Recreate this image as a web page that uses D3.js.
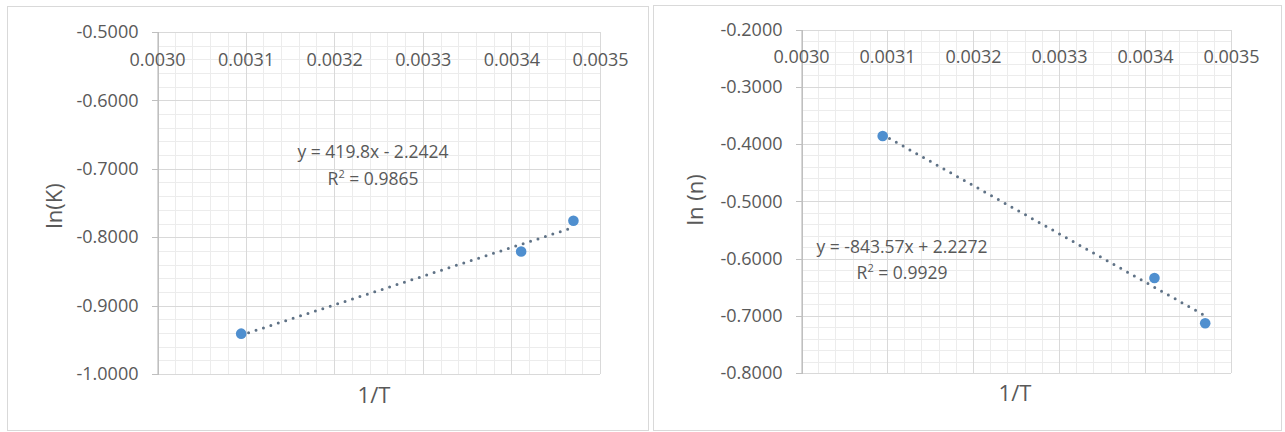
<!DOCTYPE html>
<html>
<head>
<meta charset="utf-8">
<script src="https://cdn.jsdelivr.net/npm/d3@7"></script>
<style>
  html, body { margin: 0; padding: 0; background: #ffffff; }
  svg { display: block; }
  text { font-family: "Open Sans", "Noto Sans", sans-serif; fill: #595959; }
</style>
</head>
<body>
<svg id="chart" width="1285" height="432"></svg>
<script>
// Reciprocal temperature (1/T, K^-1) of the three measurements
const invT = [0.003095, 0.003411, 0.003470];
// ln(K) and ln(n) at each temperature
const lnK = [-0.941, -0.821, -0.776];
const lnN = [-0.386, -0.634, -0.713];

// Axis ticks
const xTicks = [0.0030, 0.0031, 0.0032, 0.0033, 0.0034, 0.0035];
const lnKTicks = [-0.5, -0.6, -0.7, -0.8, -0.9, -1.0];
const lnNTicks = [-0.2, -0.3, -0.4, -0.5, -0.6, -0.7, -0.8];

// Linear trendlines: [slope, intercept, R²]
const lnKFit = [419.8, -2.2424, 0.9865];
const lnNFit = [-843.57, 2.2272, 0.9929];

const svg = d3.select("#chart");

// four decimals, plain hyphen for negatives
const fmt4 = v => v.toFixed(4);

function drawPanel(cfg) {
  const g = svg.append("g");

  // chart frame
  g.append("rect")
    .attr("x", cfg.box[0] + 0.5).attr("y", cfg.box[1] + 0.5)
    .attr("width", cfg.box[2] - cfg.box[0]).attr("height", cfg.box[3] - cfg.box[1])
    .attr("fill", "#ffffff").attr("stroke", "#d9d9d9").attr("stroke-width", 1);

  const x = d3.scaleLinear().domain(d3.extent(xTicks)).range([cfg.plot.left, cfg.plot.right]);
  const yDom = d3.extent(cfg.yTicks);
  const y = d3.scaleLinear().domain([yDom[0], yDom[1]]).range([cfg.plot.bottom, cfg.plot.top]);

  // minor gridlines (5 per major step)
  const xStep = (xTicks[1] - xTicks[0]) / 5;
  const xMinor = d3.range(0, (xTicks.length - 1) * 5 + 1).map(i => xTicks[0] + i * xStep);
  const yStep = 0.02;
  const yMinor = d3.range(0, Math.round((yDom[1] - yDom[0]) / yStep) + 1).map(i => yDom[0] + i * yStep);

  const grid = g.append("g").attr("shape-rendering", "crispEdges");
  grid.selectAll(".xm").data(xMinor).join("line")
    .attr("x1", d => Math.round(x(d)) + 0.5).attr("x2", d => Math.round(x(d)) + 0.5)
    .attr("y1", cfg.plot.top).attr("y2", cfg.plot.bottom)
    .attr("stroke", "#ececec").attr("stroke-width", 1);
  grid.selectAll(".ym").data(yMinor).join("line")
    .attr("x1", cfg.plot.left).attr("x2", cfg.plot.right)
    .attr("y1", d => Math.round(y(d)) + 0.5).attr("y2", d => Math.round(y(d)) + 0.5)
    .attr("stroke", "#ececec").attr("stroke-width", 1);

  // major gridlines
  grid.selectAll(".xM").data(xTicks).join("line")
    .attr("x1", d => Math.round(x(d)) + 0.5).attr("x2", d => Math.round(x(d)) + 0.5)
    .attr("y1", cfg.plot.top).attr("y2", cfg.plot.bottom)
    .attr("stroke", "#d9d9d9").attr("stroke-width", 1);
  grid.selectAll(".yM").data(cfg.yTicks).join("line")
    .attr("x1", cfg.plot.left).attr("x2", cfg.plot.right)
    .attr("y1", d => Math.round(y(d)) + 0.5).attr("y2", d => Math.round(y(d)) + 0.5)
    .attr("stroke", "#d9d9d9").attr("stroke-width", 1);

  // vertical value axis with outside ticks
  const yAxis = d3.axisLeft(y).tickValues(cfg.yTicks).tickSize(6).tickPadding(13)
    .tickFormat(fmt4);
  const ya = g.append("g").attr("transform", `translate(${cfg.plot.left + 0.5},0)`).call(yAxis);
  ya.select(".domain").attr("stroke", "#bfbfbf").attr("shape-rendering", "crispEdges");
  ya.selectAll(".tick line").attr("stroke", "#bfbfbf").attr("shape-rendering", "crispEdges");
  ya.selectAll(".tick text")
    .attr("font-size", 18).attr("font-family", "Open Sans").attr("fill", "#595959");

  // horizontal axis crosses at the top; its labels sit just beneath it
  const xAxis = d3.axisTop(x).tickValues(xTicks).tickSize(0).tickPadding(0)
    .tickFormat(fmt4);
  const xa = g.append("g").attr("transform", `translate(0,${cfg.plot.top})`).call(xAxis);
  xa.select(".domain").remove();
  xa.selectAll(".tick text")
    .attr("y", cfg.xLabelOffset).attr("dy", "0.35em")
    .attr("font-size", 18).attr("font-family", "Open Sans").attr("fill", "#595959");

  // trendline from the fitted equation over the data range
  const fit = cfg.fit;
  const xr = d3.extent(invT);
  const line = d3.line().x(d => x(d)).y(d => y(fit[0] * d + fit[1]));
  g.append("path")
    .attr("d", line(xr))
    .attr("fill", "none")
    .attr("stroke", "#5f7286")
    .attr("stroke-width", 3)
    .attr("stroke-linecap", "round")
    .attr("stroke-dasharray", "0 7.8");

  // data markers
  g.selectAll(".pt").data(invT.map((v, i) => [v, cfg.values[i]])).join("circle")
    .attr("cx", d => x(d[0])).attr("cy", d => y(d[1]))
    .attr("r", 5.3).attr("fill", "#4f8fcf");

  // equation and R² labels
  const fmtSigned = v => (v < 0 ? "- " : "+ ") + Math.abs(v);
  g.append("text")
    .attr("x", cfg.eq[0]).attr("y", cfg.eq[1]).attr("text-anchor", "middle").attr("dy", "0.35em")
    .attr("font-size", 17.5)
    .text(`y = ${fit[0]}x  ${fmtSigned(fit[1])}`);
  const r2 = g.append("text")
    .attr("x", cfg.eq[0]).attr("y", cfg.eq[1] + cfg.eqGap).attr("text-anchor", "middle").attr("dy", "0.35em")
    .attr("font-size", 17.5);
  r2.append("tspan").text("R");
  r2.append("tspan").attr("baseline-shift", "super").attr("font-size", 11).text("2");
  r2.append("tspan").text(` = ${fit[2]}`);

  // axis titles
  g.append("text")
    .attr("x", cfg.xTitle[0]).attr("y", cfg.xTitle[1]).attr("text-anchor", "middle").attr("dy", "0.35em")
    .attr("font-size", 22).text("1/T");
  g.append("text")
    .attr("transform", `translate(${cfg.yTitle[0]},${cfg.yTitle[1]}) rotate(-90)`)
    .attr("text-anchor", "middle").attr("dy", "0.35em")
    .attr("font-size", 22).text(cfg.yLabel);
}

drawPanel({
  box: [7, 6, 648, 430],
  plot: { left: 157, right: 600, top: 32, bottom: 374 },
  yTicks: lnKTicks,
  values: lnK,
  fit: lnKFit,
  yLabel: "ln(K)",
  xLabelOffset: 28,
  eq: [373, 152],
  eqGap: 27,
  xTitle: [374, 395],
  yTitle: [54, 206]
});

drawPanel({
  box: [653, 5, 1281, 430],
  plot: { left: 801, right: 1231, top: 29.5, bottom: 373 },
  yTicks: lnNTicks,
  values: lnN,
  fit: lnNFit,
  yLabel: "ln (n)",
  xLabelOffset: 27.5,
  eq: [902, 247],
  eqGap: 26,
  xTitle: [1015, 393],
  yTitle: [695, 200]
});
</script>
</body>
</html>
